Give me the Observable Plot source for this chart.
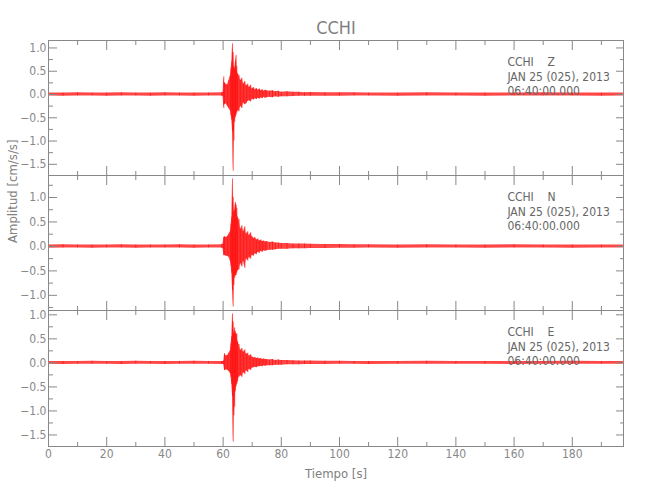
<!DOCTYPE html>
<html><head><meta charset="utf-8">
<script src="https://cdn.jsdelivr.net/npm/d3@7"></script>
<script src="https://cdn.jsdelivr.net/npm/@observablehq/plot@0.6"></script>
<style>
body{margin:0;background:#fff;}
#fig{position:relative;width:650px;height:500px;background:#fff;overflow:hidden;}
#fig svg{position:absolute;left:0;overflow:visible;background:none;}
</style></head><body><div id="fig"></div>
<script>
// ---- data (envelope of each trace per time bin) ----
const station = "CCHI";
const components = ["Z", "N", "E"];
const dateLabel = "JAN 25 (025), 2013";
const timeLabel = "06:40:00.000";
const xLabel = "Tiempo [s]";
const yLabel = "Amplitud [cm/s/s]";

const times = [0,5,10,15,20,25,30,35,40,45,50,55,59.5,
  60,60.25,60.5,61,61.5,62,62.5,62.75,63,63.25,63.5,63.75,64,64.25,64.5,64.75,65,65.5,66,66.5,67,67.5,68,68.5,69,69.5,
  70,70.5,71,71.5,72,72.5,73,73.5,74,74.5,75,76,77,78,79,80,82,84,86,88,90,95,100,105,110,120,130,140,150,160,170,180,190,197.5];

const zHi = [0.03,0.03,0.035,0.03,0.03,0.035,0.03,0.03,0.035,0.03,0.03,0.03,0.035,
  0.05,0.38,0.25,0.22,0.2,0.3,0.4,0.55,0.7,1.09,0.9,0.6,0.55,0.7,0.84,0.6,0.45,0.41,0.3,0.35,0.22,0.28,0.18,0.22,0.15,0.2,
  0.12,0.15,0.1,0.13,0.09,0.12,0.08,0.1,0.07,0.09,0.08,0.07,0.08,0.06,0.07,0.05,0.06,0.05,0.05,0.04,0.045,0.04,0.035,0.035,0.03,0.03,0.035,0.03,0.03,0.03,0.035,0.03,0.03,0.03];
const zLo = [-0.03,-0.035,-0.03,-0.03,-0.035,-0.03,-0.03,-0.035,-0.03,-0.03,-0.035,-0.03,-0.03,
  -0.05,-0.3,-0.22,-0.2,-0.25,-0.3,-0.35,-0.45,-0.55,-0.8,-1.65,-1.0,-0.6,-0.5,-0.45,-0.4,-0.35,-0.37,-0.25,-0.3,-0.18,-0.22,-0.2,-0.15,-0.13,-0.16,
  -0.1,-0.12,-0.09,-0.11,-0.08,-0.1,-0.07,-0.09,-0.06,-0.08,-0.07,-0.06,-0.07,-0.05,-0.06,-0.05,-0.05,-0.045,-0.04,-0.04,-0.04,-0.035,-0.035,-0.03,-0.03,-0.035,-0.03,-0.03,-0.035,-0.03,-0.03,-0.03,-0.035,-0.03];

const nHi = [0.03,0.035,0.03,0.03,0.03,0.035,0.03,0.03,0.03,0.035,0.03,0.03,0.035,
  0.05,0.18,0.2,0.18,0.2,0.25,0.3,0.45,0.6,1.38,1.0,0.7,0.75,0.9,0.85,0.78,0.6,0.55,0.35,0.42,0.3,0.4,0.25,0.3,0.22,0.28,
  0.2,0.16,0.18,0.13,0.15,0.11,0.13,0.1,0.11,0.09,0.1,0.08,0.09,0.07,0.07,0.06,0.06,0.05,0.05,0.05,0.045,0.04,0.04,0.035,0.035,0.03,0.035,0.03,0.03,0.035,0.03,0.03,0.03,0.03];
const nLo = [-0.035,-0.03,-0.03,-0.035,-0.03,-0.03,-0.035,-0.03,-0.03,-0.03,-0.035,-0.03,-0.03,
  -0.05,-0.19,-0.18,-0.2,-0.2,-0.22,-0.3,-0.4,-0.55,-0.9,-1.24,-0.8,-0.65,-0.6,-0.6,-0.55,-0.5,-0.48,-0.35,-0.42,-0.3,-0.45,-0.25,-0.3,-0.22,-0.26,
  -0.18,-0.2,-0.15,-0.17,-0.12,-0.14,-0.1,-0.12,-0.09,-0.1,-0.09,-0.08,-0.08,-0.07,-0.06,-0.06,-0.06,-0.05,-0.05,-0.045,-0.04,-0.04,-0.035,-0.035,-0.03,-0.035,-0.03,-0.03,-0.035,-0.03,-0.03,-0.035,-0.03,-0.03];

const eHi = [0.03,0.03,0.03,0.035,0.03,0.03,0.035,0.03,0.03,0.03,0.035,0.03,0.03,
  0.03,0.04,0.19,0.15,0.15,0.2,0.25,0.4,0.55,1.02,0.85,0.6,0.73,0.65,0.6,0.6,0.45,0.38,0.26,0.3,0.22,0.27,0.18,0.2,0.14,0.17,
  0.12,0.1,0.11,0.09,0.1,0.08,0.09,0.07,0.08,0.07,0.07,0.06,0.07,0.05,0.06,0.05,0.05,0.045,0.04,0.04,0.04,0.035,0.035,0.03,0.03,0.03,0.035,0.03,0.03,0.03,0.03,0.035,0.03,0.03];
const eLo = [-0.03,-0.035,-0.03,-0.03,-0.03,-0.035,-0.03,-0.03,-0.035,-0.03,-0.03,-0.03,-0.035,
  -0.03,-0.04,-0.16,-0.15,-0.15,-0.18,-0.22,-0.3,-0.45,-0.7,-1.65,-1.1,-0.92,-0.6,-0.5,-0.45,-0.4,-0.3,-0.26,-0.3,-0.2,-0.24,-0.16,-0.2,-0.13,-0.16,
  -0.11,-0.1,-0.09,-0.1,-0.08,-0.08,-0.07,-0.08,-0.06,-0.07,-0.06,-0.06,-0.06,-0.05,-0.05,-0.05,-0.04,-0.04,-0.04,-0.035,-0.035,-0.035,-0.03,-0.03,-0.035,-0.03,-0.03,-0.03,-0.03,-0.035,-0.03,-0.03,-0.03,-0.03];

const xMajorTicks = [0,20,40,60,80,100,120,140,160,180];
const xMinorTicks = [10,30,50,70,90,110,130,150,170,190];
const yMajorTicks = [-1.5,-1.0,-0.5,0.0,0.5,1.0];
const yMinorTicks = [-1.75,-1.25,-0.75,-0.25,0.25,0.75,1.25];

// ---- layout ----
const FONT = "'Liberation Sans Narrow','DejaVu Sans Condensed','Arial Narrow',sans-serif";
const GRAY = "#888";
const RED = "#ff0000";
const fig = document.getElementById("fig");

const panels = [
  {comp: components[0], hi: zHi, lo: zLo, domain: [-1.74, 1.16], top: 0,   mt: 40, h: 135, mb: 0},
  {comp: components[1], hi: nHi, lo: nLo, domain: [-1.31, 1.45], top: 175, mt: 0,  h: 135, mb: 0},
  {comp: components[2], hi: eHi, lo: eLo, domain: [-1.74, 1.09], top: 310, mt: 0,  h: 136, mb: 54}
];

panels.forEach((p, k) => {
  const data = times.map((t, i) => ({t, lo: p.lo[i], hi: p.hi[i]}));
  const inDom = v => v >= p.domain[0] && v <= p.domain[1];
  const yMaj = yMajorTicks.filter(inDom);
  const yMin = yMinorTicks.filter(inDom);
  const blank = () => "";
  const marks = [
    Plot.areaY(data, {x: "t", y1: "lo", y2: "hi", fill: RED, fillOpacity: 0.72, curve: "linear"}),
    Plot.ruleX(data, {x: "t", y1: "lo", y2: "hi", stroke: RED, strokeWidth: 0.7, strokeOpacity: 0.85}),
    Plot.frame({stroke: GRAY}),
    // inward ticks on all four sides
    Plot.axisX({anchor: "top", ticks: xMajorTicks, tickSize: -9, tickFormat: blank, label: null, stroke: GRAY}),
    Plot.axisX({anchor: "top", ticks: xMinorTicks, tickSize: -4, tickFormat: blank, label: null, stroke: GRAY}),
    Plot.axisX({anchor: "bottom", ticks: xMajorTicks, tickSize: -9, tickFormat: blank, label: null, stroke: GRAY}),
    Plot.axisX({anchor: "bottom", ticks: xMinorTicks, tickSize: -4, tickFormat: blank, label: null, stroke: GRAY}),
    Plot.axisY({anchor: "left", ticks: yMaj, tickSize: -9, tickFormat: blank, label: null, stroke: GRAY}),
    Plot.axisY({anchor: "left", ticks: yMin, tickSize: -5, tickFormat: blank, label: null, stroke: GRAY}),
    Plot.axisY({anchor: "right", ticks: yMaj, tickSize: -8, tickFormat: blank, label: null, stroke: GRAY}),
    Plot.axisY({anchor: "right", ticks: yMin, tickSize: -4, tickFormat: blank, label: null, stroke: GRAY}),
    // y tick labels
    Plot.axisY({anchor: "left", ticks: yMaj, tickSize: 0, tickPadding: 2, tickFormat: d3.format(".1f"), label: null, fill: GRAY, fontSize: 12}),
    // annotation
    Plot.text([`${station}    ${p.comp}\n${dateLabel}\n${timeLabel}`], {
      text: d => d, x: 157.7, frameAnchor: "top", textAnchor: "start", lineAnchor: "top",
      dy: 16, lineHeight: 1.17, fill: "#666", fontSize: 12
    })
  ];
  if (k === 0) {
    marks.push(Plot.text([station], {text: d => d, frameAnchor: "top", dy: -19, fill: "#808080", fontSize: 18}));
  }
  if (k === 1) {
    marks.push(Plot.text([yLabel], {text: d => d, frameAnchor: "left", rotate: -90, dx: -36, fill: "#808080", fontSize: 13}));
  }
  if (k === 2) {
    marks.push(Plot.axisX({anchor: "bottom", ticks: xMajorTicks, tickSize: 0, tickPadding: 3, tickFormat: d => String(d), label: null, fill: GRAY, fontSize: 12}));
    marks.push(Plot.text([xLabel], {text: d => d, frameAnchor: "bottom", dy: 31, fill: "#808080", fontSize: 13}));
  }
  const svg = Plot.plot({
    width: 650,
    height: p.mt + p.h + p.mb,
    marginTop: p.mt, marginBottom: p.mb, marginLeft: 48, marginRight: 27,
    x: {domain: [0, 197.6]},
    y: {domain: p.domain},
    style: {fontFamily: FONT, fontSize: "12px", background: "none", overflow: "visible"},
    marks
  });
  svg.style.top = p.top + "px";
  fig.appendChild(svg);
});
</script></body></html>
